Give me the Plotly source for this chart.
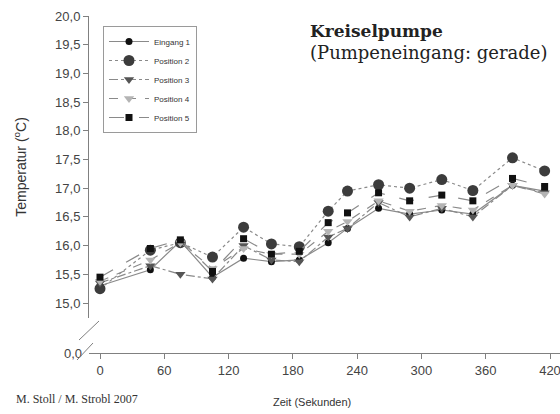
import plotly.graph_objects as go

# ---- data ----
zeit = [0, 47, 75, 105, 134, 160, 186, 213, 231, 260, 289, 319, 348, 385, 415]
eingang1 = [15.30, 15.58, 16.08, 15.45, 15.78, 15.72, 15.75, 16.05, 16.30, 16.65, 16.55, 16.62, 16.55, 17.05, 16.95]
position2 = [15.25, 15.92, 16.05, 15.80, 16.32, 16.03, 15.98, 16.60, 16.95, 17.06, 17.00, 17.15, 16.96, 17.53, 17.30]
position3 = [15.35, 15.65, 15.50, 15.42, 16.00, 15.75, 15.72, 16.15, 16.30, 16.75, 16.50, 16.65, 16.50, 17.05, 16.92]
position4 = [15.38, 15.75, 16.05, 15.60, 15.95, 15.85, 15.85, 16.25, 16.42, 16.78, 16.60, 16.70, 16.62, 17.05, 16.90]
position5 = [15.45, 15.95, 16.10, 15.55, 16.12, 15.85, 15.90, 16.40, 16.57, 16.92, 16.78, 16.88, 16.78, 17.17, 17.03]

series_names = ["Eingang 1", "Position 2", "Position 3", "Position 4", "Position 5"]
y_ticks = [15.0, 15.5, 16.0, 16.5, 17.0, 17.5, 18.0, 18.5, 19.0, 19.5, 20.0]
x_ticks = [0, 60, 120, 180, 240, 300, 360, 420]
zero_tick = [0]

styles = [
    dict(dash="solid", symbol="circle", size=7, color="#111111"),
    dict(dash="dot", symbol="circle", size=11, color="#3c3c3c"),
    dict(dash="dashdot", symbol="triangle-down", size=9, color="#555555"),
    dict(dash="dash", symbol="triangle-down", size=9, color="#b4b4b4"),
    dict(dash="longdash", symbol="square", size=7, color="#111111"),
]
all_series = [eingang1, position2, position3, position4, position5]

fig = go.Figure()
for name, vals, st in zip(series_names, all_series, styles):
    fig.add_trace(go.Scatter(
        x=zeit, y=vals, name=name, mode="lines+markers",
        line=dict(color="#8a8a8a", width=1.2, dash=st["dash"]),
        marker=dict(symbol=st["symbol"], size=st["size"], color=st["color"],
                    line=dict(width=0)),
        yaxis="y",
    ))

# invisible trace on the lower (broken) axis so it renders
fig.add_trace(go.Scatter(x=[0], y=[0], yaxis="y2", mode="markers",
                         marker=dict(opacity=0), showlegend=False, hoverinfo="skip"))

W, H = 560, 414
L, R, T, B = 89, 0, 16, 61
ph = H - T - B
pw = W - L - R
main_bottom_px = 318
main_dom0 = (353 - main_bottom_px) / ph

px_per_unit = 57.4
y_low = 20.0 - (main_bottom_px - T) / px_per_unit

x_px_per_s = 450 / 420
x_lo = -(100 - L) / x_px_per_s
x_hi = 420 + (W - R - 550) / x_px_per_s

tickfont = dict(family="Liberation Sans, Arial, sans-serif", size=13, color="#444444")

fig.update_layout(
    width=W, height=H,
    margin=dict(l=L, r=R, t=T, b=B, pad=0),
    paper_bgcolor="white", plot_bgcolor="white",
    separators=",.",
    showlegend=True,
    legend=dict(
        x=(103 - L) / pw, y=(353 - 26) / ph, xanchor="left", yanchor="top",
        bordercolor="#9a9a9a", borderwidth=1, bgcolor="white",
        font=dict(family="Liberation Sans, Arial, sans-serif", size=8, color="#333333"),
        itemwidth=40, tracegroupgap=0,
    ),
    xaxis=dict(
        range=[x_lo, x_hi], tickvals=x_ticks, showgrid=False, zeroline=False,
        showline=True, linecolor="#808080", linewidth=1,
        ticks="outside", ticklen=5, tickcolor="#808080",
        tickfont=tickfont, anchor="y2", ticklabeloverflow="allow",
    ),
    yaxis=dict(
        domain=[main_dom0, 1.0], range=[y_low, 20.0], tickvals=y_ticks, tickformat=".1f",
        showgrid=False, zeroline=False, showline=True, linecolor="#808080", linewidth=1,
        ticks="outside", ticklen=5, tickcolor="#808080", tickfont=tickfont,
        title=dict(text="Temperatur (<sup>o</sup>C)", standoff=25,
                   font=dict(family="Liberation Sans, Arial, sans-serif", size=14, color="#333333")),
    ),
    yaxis2=dict(
        domain=[0, 0.02], range=[0, 1], tickvals=zero_tick, tickformat=".1f",
        showgrid=False, zeroline=False, showline=False, ticks="",
        tickfont=tickfont, ticklabelstandoff=6,
    ),
)

# axis-break marks (decorative)
def px2paper(px, py):
    return (px - L) / pw, (H - B - py) / ph

for (x0, y0, x1, y1) in [(79, 340, 99, 321), (77, 360, 93, 343)]:
    a0 = px2paper(x0, y0); a1 = px2paper(x1, y1)
    fig.add_shape(type="line", xref="paper", yref="paper",
                  x0=a0[0], y0=a0[1], x1=a1[0], y1=a1[1],
                  line=dict(color="#808080", width=1))

# titles
tx, ty = px2paper(308, 31)
fig.add_annotation(xref="paper", yref="paper", x=tx, y=ty, xanchor="left", yanchor="middle",
                   text="<b>Kreiselpumpe</b>", showarrow=False,
                   font=dict(family="DejaVu Serif, serif", size=17, color="#222222"))
tx, ty = px2paper(308, 52)
fig.add_annotation(xref="paper", yref="paper", x=tx, y=ty, xanchor="left", yanchor="middle",
                   text="(Pumpeneingang: gerade)", showarrow=False,
                   font=dict(family="DejaVu Serif, serif", size=18, color="#222222"))
tx, ty = px2paper(14, 399)
fig.add_annotation(xref="paper", yref="paper", x=tx, y=ty, xanchor="left", yanchor="middle",
                   text="M. Stoll / M. Strobl 2007", showarrow=False,
                   font=dict(family="Liberation Serif, serif", size=12, color="#333333"))
tx, ty = px2paper(312, 402)
fig.add_annotation(xref="paper", yref="paper", x=tx, y=ty, xanchor="center", yanchor="middle",
                   text="Zeit (Sekunden)", showarrow=False,
                   font=dict(family="Liberation Sans, Arial, sans-serif", size=11, color="#333333"))

fig.write_html("out.html")
